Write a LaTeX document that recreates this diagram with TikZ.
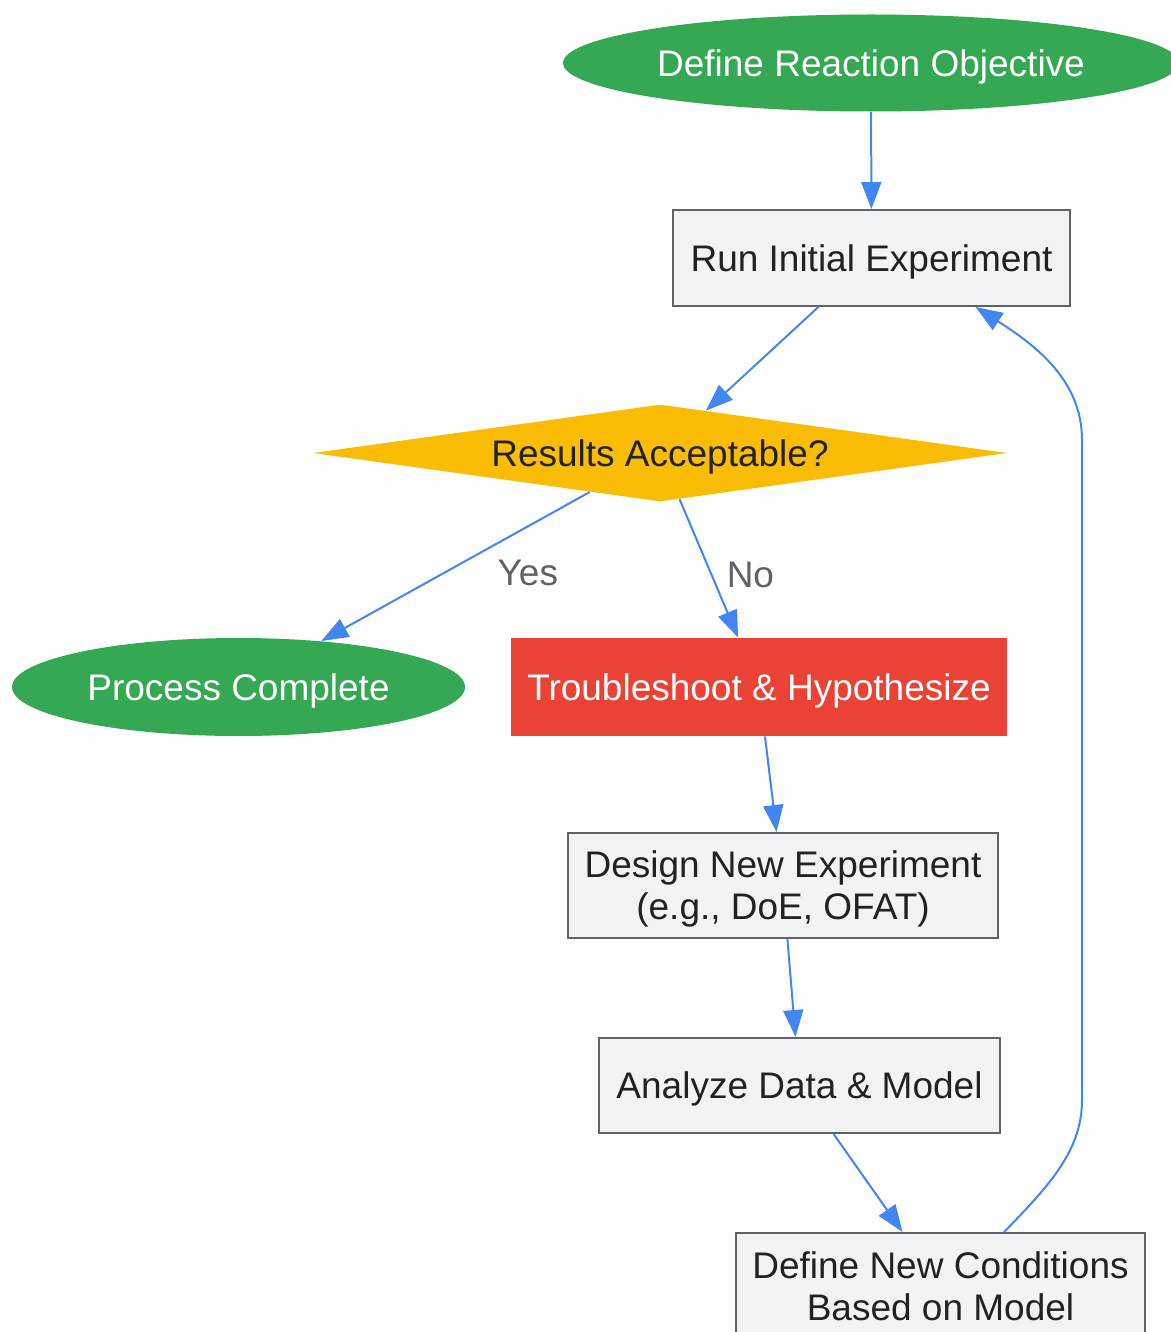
\documentclass[tikz,border=0pt]{standalone}
\usepackage{fontspec}
\setmainfont{Liberation Sans}
\usetikzlibrary{shapes.geometric, arrows.meta}
\definecolor{flowgreen}{HTML}{34A853}
\definecolor{flowyellow}{HTML}{FBBC04}
\definecolor{flowred}{HTML}{EA4335}
\definecolor{flowblue}{HTML}{4285F4}
\definecolor{boxfill}{HTML}{F2F3F5}
\definecolor{boxline}{HTML}{5F6368}
\definecolor{labelgray}{HTML}{5F6368}
\definecolor{textdark}{HTML}{222222}
\tikzset{
  every node/.style = {font = \fontsize{18.5}{21}\selectfont, inner sep = 0pt, text depth = 0pt},
  terminal/.style = {ellipse, fill = flowgreen, text = white},
  stepbox/.style = {rectangle, fill = boxfill, draw = boxline, line width = 1pt,
    text = textdark, align = center},
  alertbox/.style = {rectangle, fill = flowred, text = white},
  decision/.style = {diamond, aspect = 7.15, fill = flowyellow, text = textdark},
  edgelabel/.style = {text = labelgray, yshift = -2.5pt},
  flow/.style = {draw = flowblue, line width = 1pt,
    -{Triangle[length = 13.5pt, width = 10pt]}}
}

\begin{document}
\begin{tikzpicture}[x = 0.5pt, y = -0.5pt]

  \clip (0,0) rectangle (1171,1332);

  \node [terminal, minimum width = 308pt, minimum height = 48.5pt] (objective) at (871,63) {Define Reaction Objective};
  \node [stepbox, minimum width = 198.5pt, minimum height = 48pt] (initial) at (871.5,258) {Run Initial Experiment};
  \node [decision, minimum width = 347pt, minimum height = 48.5pt] (acceptable) at (660,453) {Results Acceptable?};
  \node [terminal, minimum width = 226.5pt, minimum height = 49pt] (complete) at (238.5,687) {Process Complete};
  \node [alertbox, minimum width = 248pt, minimum height = 49pt] (troubleshoot) at (759,687) {Troubleshoot \& Hypothesize};
  \node [stepbox, minimum width = 215pt, minimum height = 52.5pt] (design) at (783,885.5) {Design New Experiment\\(e.g., DoE, OFAT)};
  \node [stepbox, minimum width = 200.5pt, minimum height = 47.5pt] (analyze) at (799.5,1085.5) {Analyze Data \& Model};
  \node [stepbox, minimum width = 204.5pt, minimum height = 53pt] (conditions) at (940.5,1286) {Define New Conditions\\Based on Model};

  \draw [flow] (objective) -- (initial);
  \draw [flow] (initial) -- (acceptable);
  \draw [flow] (acceptable) -- node [edgelabel, pos = 0.51, xshift = 37.5pt] {Yes} (complete);
  \draw [flow] (acceptable) -- node [edgelabel, pos = 0.51, xshift = 20.5pt] {No} (troubleshoot);
  \draw [flow] (troubleshoot) -- (design);
  \draw [flow] (design) -- (analyze);
  \draw [flow] (analyze) -- (conditions);

  \draw [flow] ([xshift = 31.75pt]conditions.north)
    .. controls (1050,1185) and (1082,1150) .. (1082,1100)
    -- (1082,440)
    .. controls (1082,380) and (1035,345) .. ([xshift = 52pt]initial.south);

\end{tikzpicture}
\end{document}
